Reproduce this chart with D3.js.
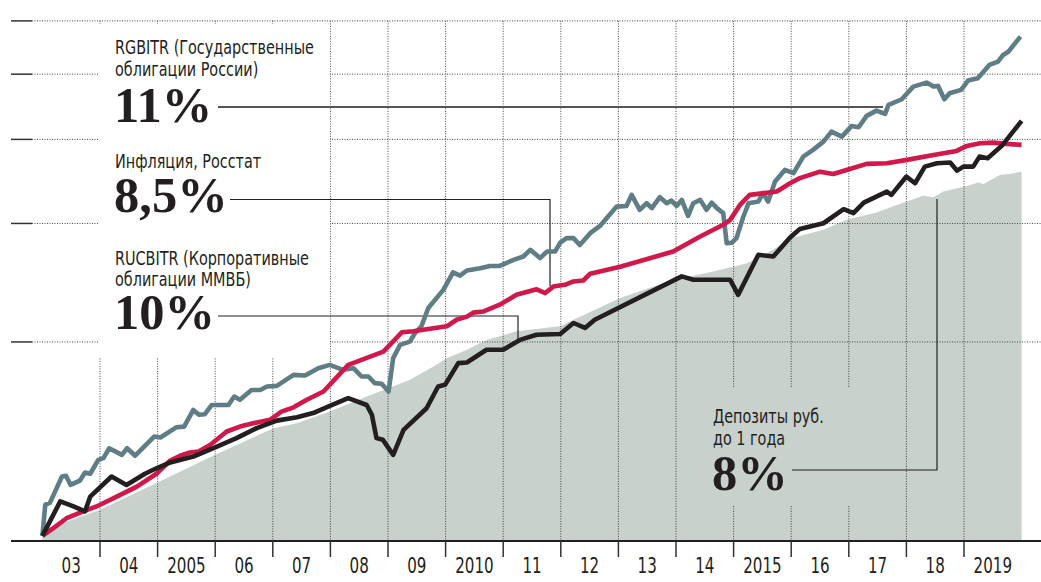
<!DOCTYPE html>
<html>
<head>
<meta charset="utf-8">
<script src="https://cdn.jsdelivr.net/npm/d3@7"></script>
<style>
  body { margin: 0; background: #fff; }
  .lbl { font-family: "Liberation Sans Narrow", "DejaVu Sans Condensed", sans-serif; fill: #231f20; }
  .big { font-family: "Liberation Serif", "DejaVu Serif", serif; font-weight: bold; fill: #231f20; }
</style>
</head>
<body>
<div class="chart"></div>
<script>
// svg container
var svgWidth = 1041;
var svgHeight = 582;

// data: [year, index value] (log scale)
var rgbitr = [
  [2003.0, 103], [2003.05, 114.6], [2003.13, 115.3], [2003.34, 126.2], [2003.41, 126.5], [2003.49, 122.6],
  [2003.65, 124.4], [2003.74, 127.9], [2003.83, 127.4], [2003.97, 133.6], [2004.06, 134.4], [2004.16, 139.0],
  [2004.38, 135.9], [2004.47, 139.0], [2004.61, 135.5], [2004.94, 144.7], [2005.05, 144.2], [2005.33, 149.4],
  [2005.46, 149.7], [2005.62, 158.5], [2005.72, 155.9], [2005.82, 156.2], [2005.94, 161.2], [2006.23, 161.2],
  [2006.33, 165.9], [2006.43, 164.1], [2006.63, 169.7], [2006.78, 169.7], [2006.90, 171.7], [2007.07, 172.1],
  [2007.36, 178.7], [2007.56, 178.3], [2007.79, 182.8], [2007.99, 184.9], [2008.22, 181.8], [2008.40, 182.8],
  [2008.54, 177.7], [2008.66, 177.7], [2008.77, 173.7], [2008.89, 173.3], [2009.01, 168.8], [2009.09, 189.2],
  [2009.21, 198], [2009.38, 200.2], [2009.47, 206.2], [2009.58, 211], [2009.70, 224.6], [2009.96, 239],
  [2010.13, 253.7], [2010.25, 250.9], [2010.37, 255.4], [2010.60, 257.4], [2010.77, 259.4], [2010.94, 259.4],
  [2011.18, 264.9], [2011.35, 267.9], [2011.47, 274.1], [2011.64, 266.5], [2011.76, 272.5], [2011.90, 272.5],
  [2011.99, 280.9], [2012.10, 285.3], [2012.22, 285.3], [2012.33, 278.7], [2012.51, 290.2], [2012.68, 297.5],
  [2012.97, 317.8], [2013.14, 318.5], [2013.23, 330.8], [2013.37, 314.3], [2013.49, 321.5], [2013.58, 316.1],
  [2013.72, 328.2], [2013.84, 321.5], [2013.92, 324.4], [2014.01, 318.5], [2014.10, 325.2], [2014.21, 307.9],
  [2014.30, 321.5], [2014.42, 325.2], [2014.53, 314.3], [2014.62, 322.1], [2014.71, 316.1], [2014.82, 310.8],
  [2014.88, 280.3], [2014.97, 280.9], [2015.05, 285.3], [2015.17, 307.2], [2015.26, 321.5], [2015.43, 323.3],
  [2015.51, 332.8], [2015.60, 323.3], [2015.72, 346.2], [2015.89, 360.3], [2016.04, 356.3], [2016.21, 377.1],
  [2016.38, 385.9], [2016.56, 396.9], [2016.70, 410.8], [2016.88, 403.8], [2017.05, 418.9], [2017.17, 417],
  [2017.31, 433.5], [2017.48, 441.4], [2017.63, 436.5], [2017.69, 450.2], [2017.92, 458.9], [2018.12, 479.2],
  [2018.35, 485.8], [2018.47, 479.2], [2018.55, 480.3], [2018.66, 458.9], [2018.75, 468.5], [2018.95, 473.9],
  [2019.07, 489.2], [2019.24, 493.2], [2019.44, 516.1], [2019.59, 522], [2019.68, 534], [2019.77, 540],
  [2019.98, 568.6]
];

var inflation = [
  [2003.0, 103], [2003.19, 105.8], [2003.42, 109.4], [2003.71, 112], [2003.94, 113.9], [2004.29, 117.8],
  [2004.64, 121.9], [2004.98, 127.4], [2005.22, 133.3], [2005.39, 135.5], [2005.56, 137], [2005.71, 137.5],
  [2005.91, 140.6], [2006.20, 147.2], [2006.43, 149.7], [2006.66, 151.4], [2006.95, 153.2], [2007.15, 157.6],
  [2007.36, 159.9], [2007.59, 164.1], [2007.88, 168.8], [2008.31, 184.9], [2008.92, 193.5], [2009.24, 206.7],
  [2009.44, 207.4], [2010.02, 211], [2010.19, 215.8], [2010.37, 218.1], [2010.48, 221.1], [2010.65, 221.9],
  [2010.94, 227.2], [2011.23, 235], [2011.58, 239.5], [2011.73, 236.4], [2011.87, 241.7], [2012.07, 243.2],
  [2012.22, 246], [2012.39, 246.8], [2012.51, 252.6], [2013.03, 258.7], [2013.95, 272.5], [2014.42, 286.9],
  [2014.82, 298.6], [2014.94, 303.7], [2015.11, 319.6], [2015.28, 330.8], [2015.75, 334.6], [2015.98, 344.3],
  [2016.15, 350.3], [2016.50, 358.2], [2016.73, 355.4], [2016.96, 360.3], [2017.31, 367.8], [2017.66, 368.7],
  [2018.01, 372.9], [2018.47, 379.2], [2018.87, 384.5], [2019.05, 391.2], [2019.28, 394.8], [2019.51, 395.6],
  [2019.74, 393.9], [2020.0, 392.5]
];

var rucbitr = [
  [2003.0, 103], [2003.31, 115.9], [2003.54, 113.9], [2003.74, 112], [2003.83, 117.8], [2004.20, 126.2],
  [2004.46, 122.6], [2004.78, 127.4], [2004.98, 129.8], [2005.22, 132.4], [2005.62, 135.1], [2006.03, 139.8],
  [2006.37, 143.9], [2006.72, 148.9], [2007.07, 152.8], [2007.42, 154.6], [2007.70, 156.8], [2007.99, 160.7],
  [2008.31, 165], [2008.63, 161.2], [2008.72, 155.9], [2008.80, 143.9], [2008.91, 143.1], [2009.09, 135.9],
  [2009.27, 148], [2009.67, 159.4], [2009.87, 171.7], [2009.99, 172.7], [2010.22, 186], [2010.37, 186.4],
  [2010.71, 194.7], [2011.00, 194.7], [2011.29, 201.4], [2011.58, 205], [2011.99, 205.5], [2012.22, 213.4],
  [2012.42, 209.8], [2012.59, 215.8], [2013.49, 235.8], [2014.10, 250.3], [2014.30, 247.4], [2014.94, 247.4],
  [2015.08, 235], [2015.43, 269.5], [2015.69, 267.9], [2015.98, 285.9], [2016.15, 294.3], [2016.56, 300.2],
  [2016.91, 315], [2017.08, 310.8], [2017.26, 322.1], [2017.66, 334.6], [2017.74, 330.8], [2018.00, 352.2],
  [2018.15, 344.3], [2018.32, 364.4], [2018.53, 368.7], [2018.76, 369.5], [2018.88, 359.4], [2018.99, 364.4],
  [2019.16, 364.4], [2019.27, 377.1], [2019.41, 375.1], [2019.67, 392.5], [2020.0, 426.2]
];

var deposits = [
  [2003.0, 103], [2003.36, 107.6], [2004.0, 112.6], [2004.98, 123.4], [2006.0, 135.9], [2007.01, 148.9],
  [2007.42, 151.4], [2007.99, 157.6], [2008.63, 165.9], [2009.01, 170.7], [2009.38, 175.7], [2009.79, 183.9],
  [2010.02, 189.2], [2010.37, 194.7], [2010.71, 201.4], [2011.23, 207.4], [2011.99, 211], [2012.22, 215.8],
  [2013.03, 232.4], [2013.95, 247.4], [2014.53, 253.2], [2014.88, 257.4], [2015.23, 261.8], [2015.69, 274.1],
  [2015.98, 285.6], [2016.15, 287.5], [2016.56, 293.5], [2016.96, 303.7], [2017.48, 311.4], [2017.83, 319.6],
  [2018.29, 329.7], [2018.47, 328.2], [2018.64, 334.6], [2019.05, 341.1], [2019.25, 345], [2019.34, 343.5],
  [2019.63, 354.3], [2019.80, 355.4], [2020.0, 358.2]
];

var gridValues = [200, 300, 400, 500, 600];
var yearTicks = d3.range(2004, 2020);
var yearLabels = ["03", "04", "2005", "06", "07", "08", "09", "2010", "11", "12", "13", "14", "2015", "16", "17", "18", "2019"];

var baseY = 541;

var svg = d3.select(".chart")
  .append("svg")
  .attr("width", svgWidth)
  .attr("height", svgHeight);

// scales
var x = d3.scaleLinear().domain([2003, 2020]).range([42.4, 1021.6]);
var y = d3.scaleLog().domain([100, 600]).range([544.5, 20.9]);

// deposits area
var area = d3.area()
  .x(d => x(d[0]))
  .y0(baseY)
  .y1(d => y(d[1]));

svg.append("path")
  .datum(deposits)
  .attr("d", area)
  .attr("fill", "#c8d1cc");

// grid
var grid = svg.append("g");
grid.selectAll(".hgrid")
  .data(gridValues)
  .enter()
  .append("line")
  .attr("x1", 32).attr("x2", svgWidth)
  .attr("y1", d => y(d)).attr("y2", d => y(d))
  .attr("stroke", "#444")
  .attr("stroke-width", 1)
  .attr("stroke-dasharray", "1,1.5");

grid.selectAll(".vgrid")
  .data(yearTicks)
  .enter()
  .append("line")
  .attr("x1", d => x(d)).attr("x2", d => x(d))
  .attr("y1", y(600)).attr("y2", baseY)
  .attr("stroke", "#444")
  .attr("stroke-width", 1)
  .attr("stroke-dasharray", "1,1.5");

// masks behind the labels
svg.append("rect")
  .attr("x", 98).attr("y", 24)
  .attr("width", 232).attr("height", 334)
  .attr("fill", "#fff");
svg.append("rect")
  .attr("x", 700).attr("y", 388)
  .attr("width", 190).attr("height", 118)
  .attr("fill", "#c8d1cc");

// short solid ticks on the left
svg.selectAll(".ltick")
  .data(gridValues)
  .enter()
  .append("line")
  .attr("x1", 11).attr("x2", 32)
  .attr("y1", d => y(d)).attr("y2", d => y(d))
  .attr("stroke", "#333")
  .attr("stroke-width", 1.5);

// leader lines
var leader = d3.line();
svg.append("path")
  .attr("d", leader([[218, 107], [883, 107]]))
  .attr("fill", "none").attr("stroke", "#555").attr("stroke-width", 2);
svg.append("path")
  .attr("d", leader([[230, 199.5], [550, 199.5], [550, 286]]))
  .attr("fill", "none").attr("stroke", "#231f20").attr("stroke-width", 1.2);
svg.append("path")
  .attr("d", leader([[218, 316], [518, 316], [518, 343]]))
  .attr("fill", "none").attr("stroke", "#231f20").attr("stroke-width", 1.2);
svg.append("path")
  .attr("d", leader([[792, 470], [937, 470], [937, 199]]))
  .attr("fill", "none").attr("stroke", "#231f20").attr("stroke-width", 1.2);

// series lines
var line = d3.line()
  .x(d => x(d[0]))
  .y(d => y(d[1]));

var series = [
  { data: rgbitr, color: "#5f7d85" },
  { data: inflation, color: "#d0184b" },
  { data: rucbitr, color: "#231f20" }
];

svg.selectAll(".series")
  .data(series)
  .enter()
  .append("path")
  .attr("d", d => line(d.data))
  .attr("fill", "none")
  .attr("stroke", d => d.color)
  .attr("stroke-width", 4.6)
  .attr("stroke-linejoin", "round");

// x axis baseline and ticks
svg.append("line")
  .attr("x1", 11).attr("x2", svgWidth)
  .attr("y1", baseY).attr("y2", baseY)
  .attr("stroke", "#231f20")
  .attr("stroke-width", 2.2);

svg.selectAll(".xtick")
  .data(yearTicks)
  .enter()
  .append("line")
  .attr("x1", d => x(d)).attr("x2", d => x(d))
  .attr("y1", baseY).attr("y2", 557)
  .attr("stroke", "#333")
  .attr("stroke-width", 1.5);

// condensed look: squeeze the sans text horizontally
var squeeze = 0.8;

svg.selectAll(".xlabel")
  .data(yearLabels)
  .enter()
  .append("text")
  .attr("class", "lbl")
  .attr("transform", (d, i) => `translate(${x(2003.5 + i)}, 573) scale(${squeeze}, 1)`)
  .attr("text-anchor", "middle")
  .style("font-size", "21px")
  .text(d => d);

// labels
function label(txt, lx, ly, size, cls) {
  var t = svg.append("text")
    .attr("class", cls)
    .style("font-size", size + "px")
    .text(txt);
  if (cls === "lbl") {
    t.attr("transform", `translate(${lx}, ${ly}) scale(${squeeze}, 1)`);
  } else {
    t.attr("x", lx).attr("y", ly);
  }
}

label("RGBITR (Государственные", 115, 53.5, 20, "lbl");
label("облигации России)", 115, 75.5, 20, "lbl");
label("11%", 114, 121.5, 50.5, "big");

label("Инфляция, Росстат", 115, 168, 20, "lbl");
label("8,5%", 114, 212, 50.5, "big");

label("RUCBITR (Корпоративные", 115, 264.5, 20, "lbl");
label("облигации ММВБ)", 115, 286, 20, "lbl");
label("10%", 114, 329, 50.5, "big");

label("Депозиты руб.", 713, 422.5, 20, "lbl");
label("до 1 года", 713, 445, 20, "lbl");
label("8%", 712, 490, 50.5, "big");
</script>
</body>
</html>
